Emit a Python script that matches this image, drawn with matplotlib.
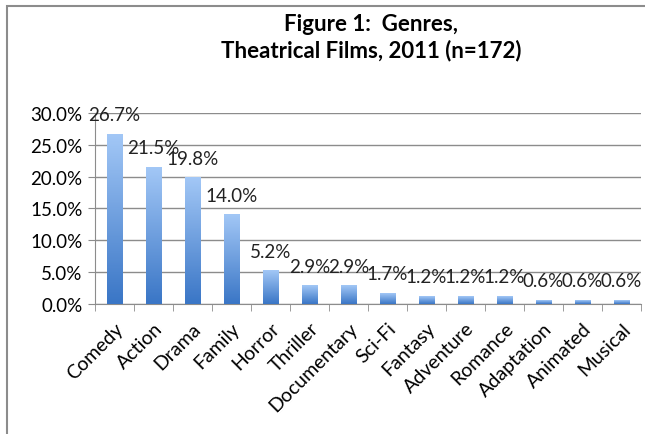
import matplotlib.pyplot as plt
import numpy as np
from matplotlib.colors import LinearSegmentedColormap
from matplotlib.patches import Rectangle

genres = ['Comedy', 'Action', 'Drama', 'Family', 'Horror', 'Thriller', 'Documentary',
          'Sci-Fi', 'Fantasy', 'Adventure', 'Romance', 'Adaptation', 'Animated', 'Musical']
shares = [26.7, 21.5, 19.8, 14.0, 5.2, 2.9, 2.9, 1.7, 1.2, 1.2, 1.2, 0.6, 0.6, 0.6]
yticks = [0, 5, 10, 15, 20, 25, 30]

plt.rcParams['font.family'] = ['Lato', 'DejaVu Sans']

fig = plt.figure(figsize=(6.45, 4.35), dpi=100)
ax = fig.add_axes([0.147, 0.299, 0.847, 0.439])

# chart frame (cropped Excel border)
fig.patches.append(Rectangle((7 / 645, -0.1), 1.2, 1 - 7 / 435 + 0.1, transform=fig.transFigure,
                             fill=False, edgecolor='#8c8c8c', linewidth=1.5))

x = np.arange(len(genres))
bars = ax.bar(x, shares, width=0.4, color='none', edgecolor='none', zorder=3)
cmap = LinearSegmentedColormap.from_list('grad', ['#3a76c6', '#a2c7f6'])
grad = np.linspace(0, 1, 100).reshape(-1, 1)
for b in bars:
    x0, w, h = b.get_x(), b.get_width(), b.get_height()
    ax.imshow(grad, cmap=cmap, origin='lower', aspect='auto',
              extent=(x0, x0 + w, 0, h), zorder=3)

for xi, v in zip(x, shares):
    ax.annotate(f'{v:.1f}%', (xi, v), xytext=(0, 14), textcoords='offset points',
                ha='center', va='center', fontsize=13.5, color='#222222', zorder=4)

ax.set_xlim(-0.5, len(genres) - 0.5)
ax.set_ylim(0, 30)
ax.set_yticks(yticks)
ax.set_yticklabels([f'{t:.1f}%' for t in yticks], fontsize=13.5)
ax.set_xticks(x)
ax.set_xticklabels(genres, rotation=45, ha='right', rotation_mode='anchor', fontsize=14)
ax.tick_params(axis='x', length=0, pad=11)
ax.tick_params(axis='y', length=5, color='#8c8c8c', pad=4)
ax.set_xticks(np.arange(-0.5, len(genres), 1), minor=True)
ax.tick_params(axis='x', which='minor', length=5, color='#8c8c8c')
ax.yaxis.grid(True, color='#8c8c8c', linewidth=1)
ax.set_axisbelow(True)
for s in ['top', 'right']:
    ax.spines[s].set_visible(False)
for s in ['left', 'bottom']:
    ax.spines[s].set_color('#8c8c8c')

fig.text(0.575, 0.913, 'Figure 1:  Genres,\nTheatrical Films, 2011 (n=172)', ha='center', va='center',
         fontsize=16, fontweight='bold', linespacing=1.3)

fig.savefig('out.png', dpi=100, facecolor='white')
